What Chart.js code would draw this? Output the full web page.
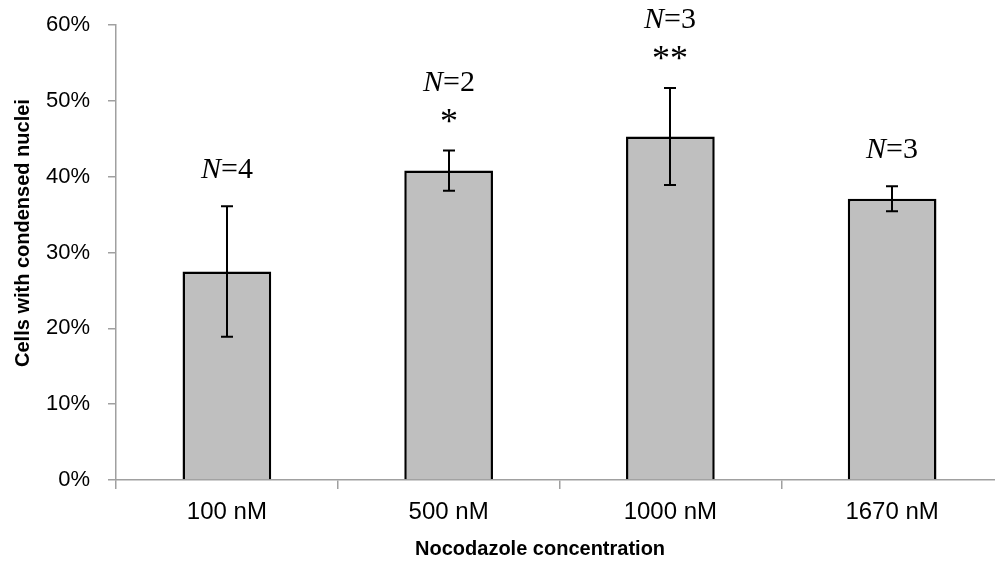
<!DOCTYPE html>
<html>
<head>
<meta charset="utf-8">
<script src="https://cdn.jsdelivr.net/npm/chart.js@4.4.1/dist/chart.umd.min.js"></script>
<style>
  body { margin: 0; background: #fff; overflow: hidden; }
  #wrap { width: 1010px; height: 572px; }
</style>
</head>
<body>
<div id="wrap"><canvas id="myChart" width="1010" height="572"></canvas></div>
<script>
// values (percent)
var labels = ['100 nM', '500 nM', '1000 nM', '1670 nM'];
var means = [27.5, 40.8, 45.3, 37.1];
var errors = [8.6, 2.65, 6.4, 1.65];
var nCounts = ['4', '2', '3', '3'];
var stars = ['', '*', '**', ''];
var yTicks = [0, 10, 20, 30, 40, 50, 60];

var axisGray = '#a0a0a0';

// error bars + N / significance labels
var errorBarPlugin = {
    id: 'errorBars',
    afterDatasetsDraw: function(chart) {
        var ctx = chart.ctx;
        var yScale = chart.scales.y;
        var meta = chart.getDatasetMeta(0);
        ctx.save();
        ctx.strokeStyle = '#000';
        ctx.lineWidth = 2;
        meta.data.forEach(function(bar, i) {
            var x = Math.round(bar.x);
            var top = yScale.getPixelForValue(means[i] + errors[i]);
            var bot = yScale.getPixelForValue(means[i] - errors[i]);
            ctx.beginPath();
            ctx.moveTo(x, top); ctx.lineTo(x, bot);
            ctx.moveTo(x - 6, top); ctx.lineTo(x + 6, top);
            ctx.moveTo(x - 6, bot); ctx.lineTo(x + 6, bot);
            ctx.stroke();

            // text above the error bar
            var nBase = top - 28;
            if (stars[i]) {
                ctx.fillStyle = '#000';
                ctx.font = '36px "Liberation Serif"';
                ctx.textAlign = 'center';
                ctx.textBaseline = 'alphabetic';
                ctx.fillText(stars[i], x, top - 18);
                nBase = top - 60;
            }
            ctx.font = 'italic 30px "Liberation Serif"';
            var w1 = ctx.measureText('N').width;
            ctx.font = '30px "Liberation Serif"';
            var rest = '=' + nCounts[i];
            var w2 = ctx.measureText(rest).width;
            var start = x - (w1 + w2) / 2;
            ctx.textAlign = 'left';
            ctx.textBaseline = 'alphabetic';
            ctx.fillStyle = '#000';
            ctx.font = 'italic 30px "Liberation Serif"';
            ctx.fillText('N', start, nBase);
            ctx.font = '30px "Liberation Serif"';
            ctx.fillText(rest, start + w1, nBase);
        });
        ctx.restore();
    }
};

var ctx = document.getElementById('myChart').getContext('2d');
var myChart = new Chart(ctx, {
    type: 'bar',
    data: {
        labels: labels,
        datasets: [{
            data: means,
            backgroundColor: '#bfbfbf',
            borderColor: '#000',
            borderWidth: 2.5,
            barPercentage: 0.4,
            categoryPercentage: 1
        }]
    },
    options: {
        responsive: false,
        animation: false,
        devicePixelRatio: 1,
        layout: { padding: { top: 25, right: 7, left: 0, bottom: 0 } },
        plugins: {
            legend: { display: false },
            tooltip: { enabled: false }
        },
        scales: {
            x: {
                afterFit: function(scale) { scale.height = 92; },
                border: { color: axisGray, width: 1.5 },
                grid: {
                    offset: true,
                    drawOnChartArea: false,
                    drawTicks: true,
                    tickLength: 9,
                    color: axisGray,
                    lineWidth: 1.5
                },
                ticks: {
                    color: '#000',
                    padding: 9,
                    font: { family: 'Liberation Sans', size: 24 }
                },
                title: {
                    display: true,
                    text: 'Nocodazole concentration       ',
                    color: '#000',
                    padding: { top: 0, bottom: 11 },
                    font: { family: 'Liberation Sans', size: 20, weight: 'bold' }
                }
            },
            y: {
                min: 0,
                max: 60,
                afterFit: function(scale) {
                    scale.width = 116;
                    scale.paddingTop = 5;
                    scale.paddingBottom = 5;
                },
                afterBuildTicks: function(scale) {
                    scale.ticks = yTicks.map(function(v) { return { value: v }; });
                },
                border: { color: axisGray, width: 1.5 },
                grid: {
                    drawOnChartArea: false,
                    drawTicks: true,
                    tickLength: 8,
                    color: axisGray,
                    lineWidth: 1.5
                },
                ticks: {
                    color: '#000',
                    padding: 18,
                    font: { family: 'Liberation Sans', size: 22 },
                    callback: function(v) { return v + '%'; }
                },
                title: {
                    display: true,
                    text: '       Cells with condensed nuclei',
                    color: '#000',
                    padding: { top: 11, bottom: 0 },
                    font: { family: 'Liberation Sans', size: 20, weight: 'bold' }
                }
            }
        }
    },
    plugins: [errorBarPlugin]
});
</script>
</body>
</html>
